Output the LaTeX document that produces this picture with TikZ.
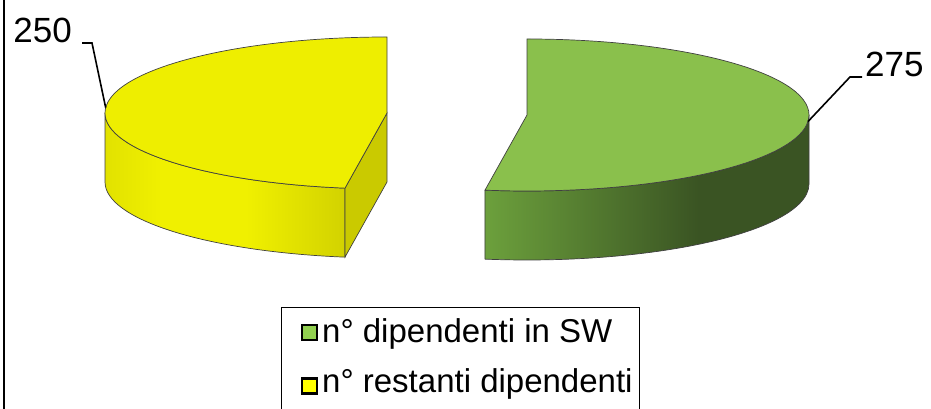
\documentclass[tikz,border=0pt]{standalone}
\usepackage{fontspec}
\setmainfont{Liberation Sans}
\usepackage{xcolor}

\definecolor{yeltop}{RGB}{238,238,0}
\definecolor{yelcut}{RGB}{202,202,0}
\definecolor{yelA}{RGB}{226,226,0}
\definecolor{yelB}{RGB}{240,240,0}
\definecolor{yelC}{RGB}{198,198,0}
\definecolor{grntop}{RGB}{138,192,76}
\definecolor{grnA}{RGB}{108,160,60}
\definecolor{grnB}{RGB}{58,84,35}
\definecolor{grnkey}{RGB}{146,208,80}
\definecolor{yelkey}{RGB}{255,255,0}

\pgfdeclarehorizontalshading{yelside}{100bp}{color(0bp)=(yelA); color(25bp)=(yelA); color(35bp)=(yelB); color(50bp)=(yelB); color(75bp)=(yelC); color(100bp)=(yelC)}
\pgfdeclarehorizontalshading{grnside}{100bp}{color(0bp)=(grnA); color(25bp)=(grnA); color(58bp)=(grnB); color(75bp)=(grnB); color(100bp)=(grnB)}

\begin{document}
\begin{tikzpicture}[x=1pt,y=1pt,
    edge/.style={draw=black!75, line width=0.7pt},
    leader/.style={draw=black, line width=1.6pt},
    val/.style={inner sep=0pt, font=\fontsize{35}{40}\selectfont},
    legtext/.style={inner sep=0pt, font=\fontsize{33}{38}\selectfont},
    key/.style={draw=black, line width=2.2pt, minimum size=15pt, inner sep=0pt}]

\useasboundingbox (0,0) rectangle (931,409);
\draw[line width=1.6pt] (4,-5) -- (4,415);

\coordinate (Cy) at (387,296);
\coordinate (Cg) at (527,294);

% restanti dipendenti
\shadedraw[edge, shading=yelside] (Cy) ++(180:282pt and 76pt)
  arc[start angle=180, end angle=261.43, x radius=282pt, y radius=76pt] -- ++(0,-69)
  arc[start angle=261.43, end angle=180, x radius=282pt, y radius=76pt] -- cycle;
\filldraw[edge, fill=yelcut] (Cy) -- ++(261.43:282pt and 76pt) -- ++(0,-69) -- ([yshift=-69pt]Cy) -- cycle;
\filldraw[edge, fill=yeltop] (Cy) -- ++(90:282pt and 76pt)
  arc[start angle=90, end angle=261.43, x radius=282pt, y radius=76pt] -- cycle;

% dipendenti in SW
\shadedraw[edge, shading=grnside] (Cg) ++(-98.57:282pt and 76pt)
  arc[start angle=-98.57, end angle=0, x radius=282pt, y radius=76pt] -- ++(0,-69)
  arc[start angle=0, end angle=-98.57, x radius=282pt, y radius=76pt] -- cycle;
\filldraw[edge, fill=grntop] (Cg) -- ++(90:282pt and 76pt)
  arc[start angle=90, end angle=-98.57, x radius=282pt, y radius=76pt] -- cycle;

\path (Cy) ++(176:282pt and 76pt) coordinate (y250);
\path (Cg) ++(-5:282pt and 76pt) coordinate (g275);
\node [val, anchor=base east] (l250) at (72,366) {250};
\node [val, anchor=base west] (l275) at (865,332) {275};
\draw[leader] ([xshift=10pt]l250.base east) -- ++(10pt,0) -- (y250);
\draw[leader] ([xshift=-3pt]l275.base west) -- ++(-12pt,0) -- (g275);

% legenda
\draw[line width=0.9pt] (281,-10) rectangle (639,102);
\node [key, fill=grnkey] (ksw) at (309.5,76.5) {};
\node [key, fill=yelkey] (krest) at (309.5,23) {};
\node [legtext, anchor=base west] (tsw) at (322,66) {n° dipendenti in SW};
\node [legtext, anchor=base west] (trest) at (322,16) {n° restanti dipendenti};
\end{tikzpicture}
\end{document}
